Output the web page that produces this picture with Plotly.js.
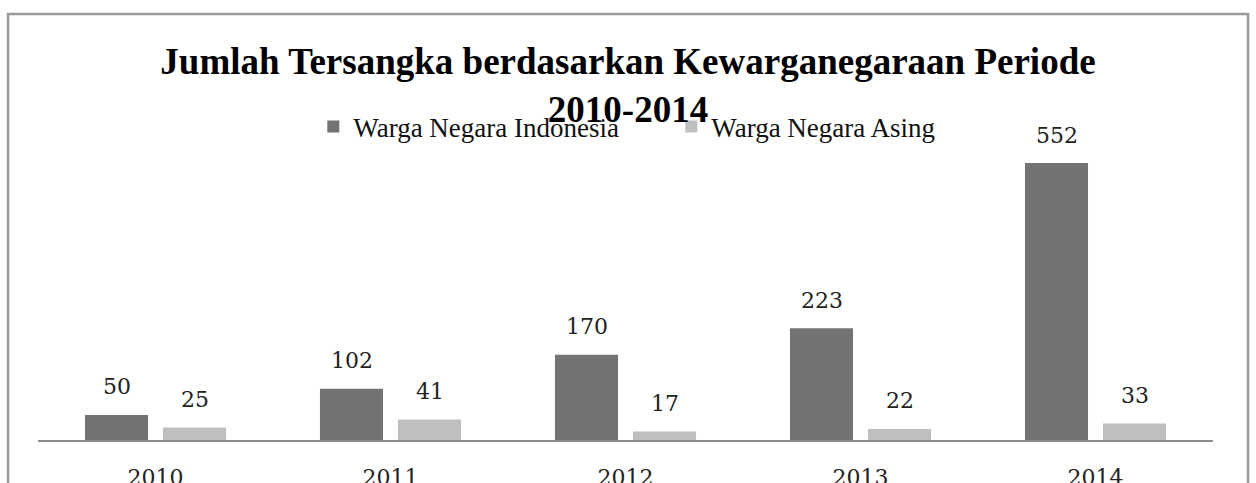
<!DOCTYPE html>
<html><head><meta charset="utf-8">
<script src="https://cdn.plot.ly/plotly-3.0.1.min.js"></script>
<style>html,body{margin:0;padding:0;background:#fff}#chart{width:1256px;height:483px}</style>
</head><body><div id="chart"></div>
<script>
const years = ["2010", "2011", "2012", "2013", "2014"];
const wni = [50, 102, 170, 223, 552];
const wna = [25, 41, 17, 22, 33];
const seriesNames = ["Warga Negara Indonesia", "Warga Negara Asing"];
const titleText = "Jumlah Tersangka berdasarkan Kewarganegaraan Periode<br>2010-2014";

const labelFont = {family: "DejaVu Serif", size: 22, color: "#222"};
const traces = [
  {type: "bar", name: seriesNames[0], x: years, y: wni, marker: {color: "#737373"}, hoverinfo: "none"},
  {type: "bar", name: seriesNames[1], x: years, y: wna, marker: {color: "#bfbfbf"}, hoverinfo: "none"}
];
const annotations = [];
[wni, wna].forEach((vals, s) => {
  vals.forEach((v, i) => {
    annotations.push({x: i, y: v, xref: "x", yref: "y", text: String(v),
      showarrow: false, xshift: s === 0 ? -39 : 39, yshift: 28, yanchor: "middle",
      font: labelFont});
  });
});
const layout = {
  width: 1256, height: 483,
  margin: {l: 38, r: 43, t: 139, b: 43},
  paper_bgcolor: "#fff", plot_bgcolor: "#fff",
  barmode: "group", bargap: 0.336, bargroupgap: 0.192,
  title: {text: titleText, x: 0.5, xanchor: "center", y: 0.847, yanchor: "top",
    font: {family: "Liberation Serif", size: 37, color: "#000", weight: "bold"}},
  showlegend: true,
  legend: {orientation: "h", x: 0.539, xanchor: "center", y: 1.04, yanchor: "middle",
    font: {family: "Liberation Serif", size: 27, color: "#111"}, bgcolor: "rgba(0,0,0,0)",
    itemwidth: 30, entrywidth: 313},
  xaxis: {type: "category", range: [-0.5, 4.5], showgrid: false, zeroline: false, showline: true,
    linecolor: "#8c8c8c", linewidth: 2, ticks: "", ticklabelstandoff: 17,
    tickfont: {family: "DejaVu Serif", size: 22, color: "#222"}},
  yaxis: {range: [0, 600], showgrid: false, zeroline: false, showline: false,
    showticklabels: false, ticks: ""},
  annotations: annotations,
  shapes: [{type: "rect", xref: "paper", yref: "paper", x0: -0.0255, x1: 1.0298,
    y0: -0.3, y1: 1.415, line: {color: "#999", width: 2.5}, fillcolor: "rgba(0,0,0,0)", layer: "below"}]
};
Plotly.newPlot("chart", traces, layout, {displayModeBar: false, staticPlot: true});
</script></body></html>
